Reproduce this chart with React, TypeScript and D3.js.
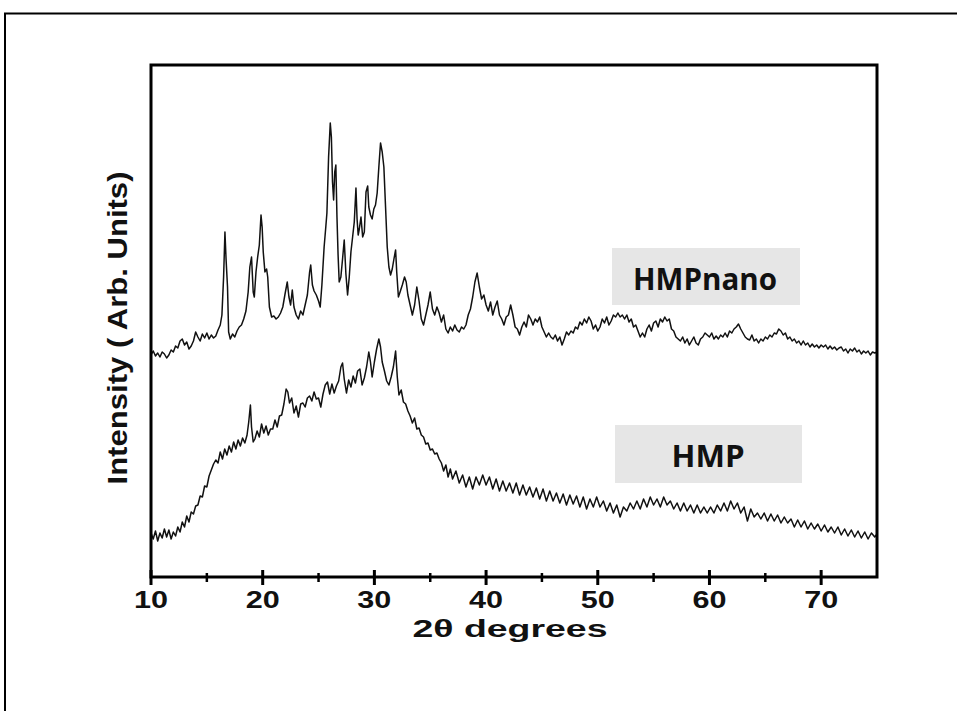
import React from "react";
import * as d3 from "d3";

// 2θ (degrees), intensity (arb. units)
const hmpNano: [number, number][] = [
  [10.0,222],[10.2,226],[10.4,221],[10.6,224],[10.8,220],[11.0,225],[11.2,223],[11.4,219],[11.6,222],[11.8,227],
  [12.0,225],[12.2,231],[12.4,229],[12.6,236],[12.8,238],[13.0,232],[13.2,235],[13.4,228],[13.6,231],[13.8,236],
  [14.0,245],[14.2,240],[14.4,236],[14.6,243],[14.8,239],[15.0,244],[15.2,238],[15.4,242],[15.6,239],[15.8,241],
  [16.0,247],[16.2,252],[16.35,262],[16.5,300],[16.62,345],[16.72,318],[16.85,290],[16.95,245],[17.1,238],[17.3,243],
  [17.5,240],[17.7,246],[17.9,250],[18.1,252],[18.3,258],[18.5,266],[18.7,285],[18.85,310],[19.0,320],[19.15,285],
  [19.25,280],[19.4,305],[19.55,320],[19.7,332],[19.85,362],[19.95,350],[20.05,325],[20.2,305],[20.35,308],[20.45,300],
  [20.6,270],[20.8,260],[21.0,261],[21.2,258],[21.4,260],[21.6,264],[21.8,270],[22.0,283],[22.2,295],[22.35,280],
  [22.5,272],[22.65,287],[22.8,270],[23.0,262],[23.2,258],[23.4,266],[23.6,262],[23.8,272],[24.0,282],[24.2,305],
  [24.3,312],[24.45,292],[24.6,286],[24.8,282],[25.0,276],[25.15,270],[25.3,292],[25.5,330],[25.65,350],[25.75,364],
  [25.9,420],[26.05,454],[26.15,440],[26.25,395],[26.35,377],[26.45,405],[26.55,412],[26.65,360],[26.75,322],[26.85,295],
  [27.0,300],[27.15,318],[27.3,337],[27.45,303],[27.6,282],[27.75,300],[27.9,325],[28.05,340],[28.2,355],[28.35,389],
  [28.45,358],[28.55,342],[28.65,348],[28.8,360],[28.95,340],[29.1,345],[29.25,385],[29.4,391],[29.5,370],[29.65,362],
  [29.8,358],[29.95,368],[30.1,372],[30.25,384],[30.4,410],[30.55,434],[30.7,425],[30.85,410],[31.0,370],[31.15,330],
  [31.3,310],[31.45,302],[31.6,308],[31.75,318],[31.9,327],[32.0,305],[32.15,280],[32.3,285],[32.5,292],[32.7,300],
  [32.85,295],[33.0,282],[33.2,272],[33.4,262],[33.6,272],[33.8,290],[34.0,276],[34.2,258],[34.4,252],[34.6,262],
  [34.8,272],[35.0,285],[35.2,268],[35.4,262],[35.6,270],[35.8,264],[36.0,255],[36.2,262],[36.4,248],[36.6,244],
  [36.8,250],[37.0,246],[37.2,252],[37.4,247],[37.6,245],[37.8,250],[38.0,248],[38.2,252],[38.4,262],[38.6,268],
  [38.8,280],[39.0,295],[39.2,304],[39.4,290],[39.6,278],[39.8,282],[40.0,272],[40.2,266],[40.4,275],[40.6,262],
  [40.8,270],[41.0,276],[41.2,262],[41.4,258],[41.6,252],[41.8,260],[42.0,262],[42.2,272],[42.4,262],[42.6,250],
  [42.8,248],[43.0,242],[43.2,250],[43.4,255],[43.6,250],[43.8,262],[44.0,258],[44.2,252],[44.4,258],[44.6,255],
  [44.8,260],[45.0,250],[45.2,245],[45.4,240],[45.6,244],[45.8,240],[46.0,238],[46.2,242],[46.4,236],[46.6,240],
  [46.8,232],[47.0,238],[47.2,245],[47.4,242],[47.6,246],[47.8,244],[48.0,250],[48.2,248],[48.4,255],[48.6,252],
  [48.8,258],[49.0,254],[49.2,260],[49.4,256],[49.6,248],[49.8,252],[50.0,246],[50.2,250],[50.4,258],[50.6,254],
  [50.8,260],[51.0,252],[51.2,256],[51.4,262],[51.6,260],[51.8,264],[52.0,260],[52.2,262],[52.4,258],[52.6,262],
  [52.8,255],[53.0,258],[53.2,250],[53.4,252],[53.6,246],[53.8,240],[54.0,244],[54.2,240],[54.4,248],[54.6,252],
  [54.8,246],[55.0,254],[55.2,256],[55.4,250],[55.6,258],[55.8,255],[56.0,260],[56.2,256],[56.4,258],[56.6,248],
  [56.8,246],[57.0,240],[57.2,238],[57.4,236],[57.6,240],[57.8,234],[58.0,238],[58.2,232],[58.4,236],[58.6,240],
  [58.8,234],[59.0,232],[59.2,238],[59.4,240],[59.6,244],[59.8,242],[60.0,240],[60.2,244],[60.4,238],[60.6,241],
  [60.8,238],[61.0,242],[61.2,240],[61.4,244],[61.6,240],[61.8,246],[62.0,244],[62.2,248],[62.4,250],[62.6,253],
  [62.8,248],[63.0,244],[63.2,240],[63.4,238],[63.6,237],[63.8,242],[64.0,236],[64.2,238],[64.4,234],[64.6,238],
  [64.8,236],[65.0,240],[65.2,238],[65.4,242],[65.6,240],[65.8,244],[66.0,243],[66.2,248],[66.4,246],[66.6,242],
  [66.8,244],[67.0,238],[67.2,240],[67.4,236],[67.6,238],[67.8,234],[68.0,236],[68.2,232],[68.4,236],[68.6,232],
  [68.8,234],[69.0,230],[69.2,233],[69.4,230],[69.6,232],[69.8,229],[70.0,232],[70.2,230],[70.4,232],[70.6,228],
  [70.8,231],[71.0,228],[71.2,230],[71.4,227],[71.6,229],[71.8,230],[72.0,226],[72.2,228],[72.4,224],[72.6,228],
  [72.8,226],[73.0,229],[73.2,225],[73.4,227],[73.6,223],[73.8,226],[74.0,224],[74.2,226],[74.4,222],[74.6,225],
  [74.8,224],[75.0,225],
];

const hmp: [number, number][] = [
  [10.0,44],[10.2,38],[10.4,46],[10.6,36],[10.8,44],[11.0,39],[11.2,48],[11.4,40],[11.6,47],[11.8,38],
  [12.0,45],[12.2,41],[12.4,50],[12.6,45],[12.8,55],[13.0,50],[13.2,61],[13.4,55],[13.6,65],[13.8,63],
  [14.0,71],[14.2,72],[14.4,81],[14.6,80],[14.8,91],[15.0,90],[15.2,101],[15.4,107],[15.6,113],[15.8,117],
  [16.0,114],[16.2,125],[16.4,118],[16.6,128],[16.8,122],[17.0,131],[17.2,125],[17.4,135],[17.6,128],[17.8,137],
  [18.0,131],[18.2,139],[18.4,134],[18.6,142],[18.75,155],[18.9,172],[19.0,150],[19.15,135],[19.3,138],[19.5,146],
  [19.7,140],[19.9,153],[20.1,144],[20.3,151],[20.5,142],[20.7,148],[20.9,148],[21.1,157],[21.3,150],[21.5,161],
  [21.7,162],[21.9,173],[22.1,188],[22.25,185],[22.4,174],[22.6,179],[22.8,164],[23.0,171],[23.2,160],[23.4,173],
  [23.6,174],[23.8,170],[24.0,179],[24.2,181],[24.4,176],[24.6,185],[24.8,178],[25.0,179],[25.2,170],[25.4,183],
  [25.6,192],[25.8,195],[26.0,183],[26.2,193],[26.4,184],[26.6,191],[26.8,196],[27.0,210],[27.15,214],[27.3,198],
  [27.5,184],[27.7,197],[27.9,190],[28.1,201],[28.3,194],[28.5,206],[28.7,208],[28.9,192],[29.1,199],[29.3,210],
  [29.5,225],[29.65,215],[29.8,200],[30.0,215],[30.2,228],[30.4,238],[30.55,230],[30.7,215],[30.9,206],[31.1,196],
  [31.3,192],[31.5,200],[31.7,210],[31.9,226],[32.05,200],[32.2,182],[32.4,187],[32.6,175],[32.8,173],[33.0,166],
  [33.2,161],[33.4,154],[33.6,159],[33.8,148],[34.0,149],[34.2,142],[34.4,140],[34.6,133],[34.8,134],[35.0,127],
  [35.2,128],[35.4,123],[35.6,124],[35.8,118],[36.0,114],[36.2,106],[36.4,112],[36.6,100],[36.8,108],[37.0,98],
  [37.3,106],[37.6,94],[37.9,102],[38.2,90],[38.5,100],[38.8,88],[39.1,100],[39.4,92],[39.7,102],[40.0,92],
  [40.3,100],[40.6,88],[40.9,98],[41.2,86],[41.5,96],[41.8,86],[42.1,94],[42.4,84],[42.7,94],[43.0,82],
  [43.3,92],[43.6,82],[43.9,90],[44.2,80],[44.5,89],[44.8,78],[45.1,88],[45.4,76],[45.7,86],[46.0,76],
  [46.3,84],[46.6,74],[46.9,83],[47.2,72],[47.5,82],[47.8,73],[48.1,81],[48.4,70],[48.7,80],[49.0,68],
  [49.3,78],[49.6,70],[49.9,80],[50.2,70],[50.5,76],[50.8,66],[51.1,74],[51.4,64],[51.7,72],[52.0,60],
  [52.3,70],[52.6,66],[52.9,74],[53.2,68],[53.5,76],[53.8,68],[54.1,78],[54.4,70],[54.7,80],[55.0,72],
  [55.3,78],[55.6,70],[55.9,80],[56.2,72],[56.5,76],[56.8,68],[57.1,74],[57.4,66],[57.7,74],[58.0,66],
  [58.3,72],[58.6,64],[58.9,72],[59.2,64],[59.5,70],[59.8,64],[60.1,70],[60.4,64],[60.7,72],[61.0,66],
  [61.3,74],[61.6,66],[61.9,76],[62.2,68],[62.5,74],[62.8,64],[63.1,70],[63.4,56],[63.7,68],[64.0,60],
  [64.3,64],[64.6,58],[64.9,64],[65.2,56],[65.5,63],[65.8,56],[66.1,62],[66.4,54],[66.7,60],[67.0,54],
  [67.3,58],[67.6,50],[67.9,57],[68.2,50],[68.5,56],[68.8,48],[69.1,54],[69.4,48],[69.7,53],[70.0,46],
  [70.3,52],[70.6,45],[70.9,50],[71.2,44],[71.5,50],[71.8,42],[72.1,48],[72.4,41],[72.7,47],[73.0,40],
  [73.3,46],[73.6,39],[73.9,45],[74.2,38],[74.5,44],[74.8,40],[75.0,43],
];

const majorTicks = [10, 20, 30, 40, 50, 60, 70];
const minorTicks = [15, 25, 35, 45, 55, 65];
const seriesLabels = ["HMPnano", "HMP"];
const xTitle = "2θ degrees";
const yTitle = "Intensity ( Arb. Units)";

export default function App() {
  const W = 957, H = 711;
  const left = 151, right = 877, top = 65, bottom = 577;
  const x = d3.scaleLinear().domain([10, 75]).range([left, right]);
  const y = d3.scaleLinear().domain([0, 512]).range([bottom, top]);
  const line = d3.line<[number, number]>().x(d => x(d[0])).y(d => y(d[1]));
  const font = "'Liberation Sans', Arial, sans-serif";

  return (
    <svg width={W} height={H} style={{ position: "absolute", left: 0, top: 0, background: "#fff" }}>
      <rect x={0} y={0} width={W} height={H} fill="#fff" />
      {/* outer frame */}
      <rect x={5} y={13.5} width={W + 10} height={H + 10} fill="none" stroke="#000" strokeWidth={2} />
      {/* curves */}
      <path d={line(hmpNano) || ""} fill="none" stroke="#111" strokeWidth={1.5} strokeLinejoin="round" />
      <path d={line(hmp) || ""} fill="none" stroke="#111" strokeWidth={1.5} strokeLinejoin="round" />
      {/* plot frame */}
      <rect x={left} y={top} width={right - left} height={bottom - top} fill="none" stroke="#000" strokeWidth={3} />
      {/* ticks */}
      {majorTicks.map(t => (
        <line key={"M" + t} x1={x(t)} x2={x(t)} y1={bottom - 7} y2={bottom + 8} stroke="#000" strokeWidth={3} />
      ))}
      {minorTicks.map(t => (
        <line key={"m" + t} x1={x(t)} x2={x(t)} y1={bottom - 4} y2={bottom + 5} stroke="#000" strokeWidth={2.5} />
      ))}
      {majorTicks.map(t => (
        <text key={"l" + t} x={x(t)} y={608} textAnchor="middle" fontFamily={font} fontWeight="bold"
          fontSize={24} textLength={34} lengthAdjust="spacingAndGlyphs" fill="#111">{t}</text>
      ))}
      <text x={510} y={637} textAnchor="middle" fontFamily={font} fontWeight="bold" fontSize={24}
        textLength={195} lengthAdjust="spacingAndGlyphs" fill="#111">{xTitle}</text>
      <text transform="translate(127,328) rotate(-90)" textAnchor="middle" fontFamily={font} fontWeight="bold"
        fontSize={28} textLength={313} lengthAdjust="spacingAndGlyphs" fill="#111">{yTitle}</text>
      {/* labels */}
      <rect x={612} y={248} width={188} height={57} fill="#e6e6e6" />
      <text x={705} y={290} textAnchor="middle" fontFamily="'Open Sans', sans-serif" fontWeight="bold" fontSize={30}
        textLength={144} lengthAdjust="spacingAndGlyphs" fill="#111">{seriesLabels[0]}</text>
      <rect x={615} y={425} width={187} height={58} fill="#e6e6e6" />
      <text x={708} y={467} textAnchor="middle" fontFamily="'Open Sans', sans-serif" fontWeight="bold" fontSize={30}
        textLength={73} lengthAdjust="spacingAndGlyphs" fill="#111">{seriesLabels[1]}</text>
    </svg>
  );
}
